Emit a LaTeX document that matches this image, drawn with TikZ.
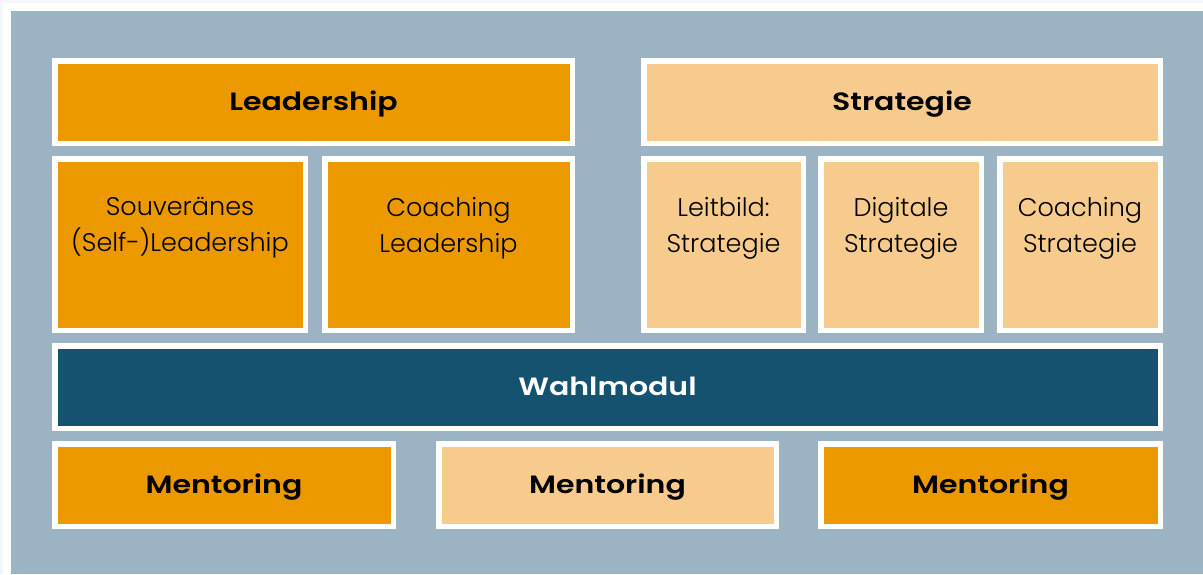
\documentclass[tikz,border=0pt]{standalone}
\usepackage{fontspec}
\setmainfont{Poppins}[UprightFont={* Light},BoldFont={* SemiBold}]
\newfontfamily\hdrfont{Poppins}[UprightFont={* SemiBold},FakeStretch=1.2]
\definecolor{pagebg}{RGB}{244,246,249}
\definecolor{panel}{RGB}{156,179,195}
\definecolor{orng}{RGB}{236,153,0}
\definecolor{peach}{RGB}{247,203,141}
\definecolor{teal}{RGB}{20,82,112}
\tikzset{
  box/.style={draw=white,line width=5.5pt,inner sep=0pt,
    minimum width=#1-5.5pt},
  hdr/.style={box=#1,minimum height=88pt-5.5pt,text height=20pt,text depth=2.5pt,
    font=\hdrfont\fontsize{25}{30}\selectfont},
  tall/.style={box=#1,minimum height=177pt-5.5pt},
  body/.style={align=center,font=\fontsize{25.5}{36}\selectfont,inner sep=0pt},
}
\begin{document}
\begin{tikzpicture}[x=1pt,y=-1pt]
\useasboundingbox (0,0) rectangle (1203,574);
\fill[pagebg] (0,0) rectangle (1203,574);
\fill[white] (3,3) rectangle (1203,574);
\fill[panel] (11,11) rectangle (1203,574);
% headers
\node[hdr=523pt,fill=orng] (lead) at (313.5,102) {Leadership};
\node[hdr=522pt,fill=peach] (strat) at (902,102) {Strategie};
% second row
\node[tall=256pt,fill=orng] (souv) at (180,244.5) {};
\node[tall=253pt,fill=orng] (coachl) at (448.5,244.5) {};
\node[tall=165pt,fill=peach] (leit) at (723.5,244.5) {};
\node[tall=166pt,fill=peach] (digi) at (901,244.5) {};
\node[tall=166pt,fill=peach] (coachs) at (1080,244.5) {};
\node[body] (souvt) at (180,228) {Souveränes\\(Self-)Leadership};
\node[body] (coachlt) at (448.5,228) {Coaching\\Leadership};
\node[body] (leitt) at (723.5,228) {Leitbild:\\Strategie};
\node[body] (digit) at (901,228) {Digitale\\Strategie};
\node[body] (coachst) at (1080,228) {Coaching\\Strategie};
% Wahlmodul
\node[hdr=1111pt,fill=teal,text=white] (wahl) at (607.5,387) {Wahlmodul};
% Mentoring
\node[hdr=344pt,fill=orng] (m1) at (224,485) {Mentoring};
\node[hdr=343pt,fill=peach] (m2) at (607.5,485) {Mentoring};
\node[hdr=345pt,fill=orng] (m3) at (990.5,485) {Mentoring};
\end{tikzpicture}
\end{document}
